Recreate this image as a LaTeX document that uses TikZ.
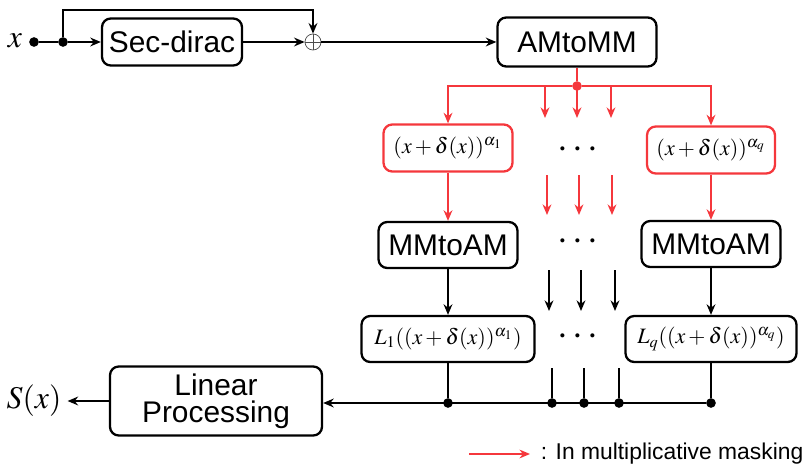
\documentclass[tikz,border=0pt]{standalone}
\usepackage{mathptmx}
\usepackage[no-math]{fontspec}
\setmainfont{Liberation Sans}
\usetikzlibrary{arrows.meta}
\definecolor{maskred}{RGB}{245,55,60}
\tikzset{
  blockbox/.style={draw, line width=1.3pt, rounded corners=5pt, inner sep=0pt,
    minimum height=0.94cm, font=\fontsize{17}{15.5}\selectfont},
  maskbox/.style={blockbox, draw=maskred},
  mathtxt/.style={font=\fontsize{12.5}{15}\selectfont},
  bigmath/.style={font=\fontsize{18}{20}\selectfont},
  sig/.style={line width=1pt, -{Stealth[length=6pt,width=5pt]}},
  masksig/.style={sig, draw=maskred, -{Stealth[length=6pt,width=5pt,color=maskred]}},
  jn/.style={circle, fill, inner sep=0pt, minimum size=5.5pt},
  ellip/.style={font=\fontsize{22}{24}\selectfont}
}
\begin{document}
\begin{tikzpicture}
    \useasboundingbox (0,0) rectangle (16.08,9.26);
    \node [bigmath] (xin) at (0.30,8.44) {$x$};
    \node [jn] (j0) at (0.68,8.42) {};
    \node [jn] (j1) at (1.26,8.42) {};
    \node [blockbox, minimum width=2.8cm] (sec) at (3.44,8.42) {Sec-dirac};
    \node [circle, draw=black!70, line width=0.4pt, inner sep=0pt, minimum size=0.32cm] (add) at (6.26,8.42) {};
    \draw [black!70, line width=0.4pt] (add.north) -- (add.south) (add.west) -- (add.east);
    \node [blockbox, minimum width=3.18cm, minimum height=0.98cm] (am) at (11.54,8.42) {AMtoMM};
    \coordinate (fb) at (1.26,9.06);
    \draw [line width=1pt] (j0) -- (j1);
    \draw [sig] (j1) -- (sec);
    \draw [sig] (j1) -- (fb) -| (add.north);
    \draw [sig] (sec) -- (add);
    \draw [sig] (add.east) -- (am.west);

    \node [jn, fill=maskred] (rj) at (11.54,7.54) {};
    \draw [line width=1pt, maskred] (am) -- (rj);
    \node [maskbox, mathtxt, minimum width=2.58cm] (p1) at (8.96,6.30) {$(x+\delta(x))^{\alpha_1}$};
    \node [maskbox, mathtxt, minimum width=2.56cm] (pq) at (14.22,6.26) {$(x+\delta(x))^{\alpha_q}$};
    \coordinate (rl) at (8.96,7.54);
    \coordinate (rr) at (14.22,7.54);
    \draw [masksig] (rj) -- (rl) -- (p1);
    \draw [masksig] (rj) -- (rr) -- (pq);
    \foreach \c [count=\i] in {10.90,11.54,12.22} {
        \coordinate (ta\i) at (\c,7.54);
        \coordinate (tb\i) at (\c,6.90);
        \draw [masksig] (ta\i) -- (tb\i);
    }
    \node [ellip] (e1) at (11.56,6.26) {$\cdots$};

    \node [blockbox, minimum width=2.78cm, minimum height=0.92cm] (mm1) at (8.96,4.36) {MMtoAM};
    \node [blockbox, minimum width=2.78cm, minimum height=0.92cm] (mmq) at (14.22,4.38) {MMtoAM};
    \draw [masksig] (p1) -- (mm1);
    \draw [masksig] (pq) -- (mmq);
    \foreach \c [count=\i] in {10.94,11.58,12.24} {
        \coordinate (ma\i) at (\c,5.76);
        \coordinate (mb\i) at (\c,4.96);
        \draw [masksig] (ma\i) -- (mb\i);
    }
    \node [ellip] (e2) at (11.56,4.42) {$\cdots$};

    \node [blockbox, mathtxt, minimum width=3.46cm, minimum height=0.92cm] (l1) at (8.96,2.48) {$L_1((x+\delta(x))^{\alpha_1})$};
    \node [blockbox, mathtxt, minimum width=3.42cm, minimum height=0.92cm] (lq) at (14.22,2.48) {$L_q((x+\delta(x))^{\alpha_q})$};
    \draw [sig] (mm1) -- (l1);
    \draw [sig] (mmq) -- (lq);
    \foreach \c [count=\i] in {10.98,11.62,12.30} {
        \coordinate (ba\i) at (\c,3.86);
        \coordinate (bb\i) at (\c,3.04);
        \draw [sig] (ba\i) -- (bb\i);
    }
    \node [ellip] (e3) at (11.56,2.52) {$\cdots$};

    \node [jn] (b1) at (8.96,1.20) {};
    \node [jn] (bq) at (14.22,1.20) {};
    \draw [line width=1pt] (l1) -- (b1);
    \draw [line width=1pt] (lq) -- (bq);
    \foreach \c [count=\i] in {11.04,11.68,12.38} {
        \node [jn] (bd\i) at (\c,1.20) {};
        \coordinate (bt\i) at (\c,1.90);
        \draw [line width=1pt] (bt\i) -- (bd\i);
    }
    \node [blockbox, minimum width=4.24cm, minimum height=1.38cm, align=center] (lin) at (4.32,1.24) {Linear\\Processing};
    \draw [sig] (bq) -- (lin.east |- bq);
    \node [bigmath] (sx) at (0.68,1.24) {$S(x)$};
    \draw [sig] (lin) -- (sx);

    \coordinate (la) at (9.38,0.18);
    \coordinate (lb) at (10.60,0.18);
    \draw [masksig, line width=0.8pt] (la) -- (lb);
    \node [anchor=west, inner sep=2pt, font=\fontsize{13}{15}\selectfont] (leg) at (10.74,0.18) {: In multiplicative masking};
\end{tikzpicture}
\end{document}
